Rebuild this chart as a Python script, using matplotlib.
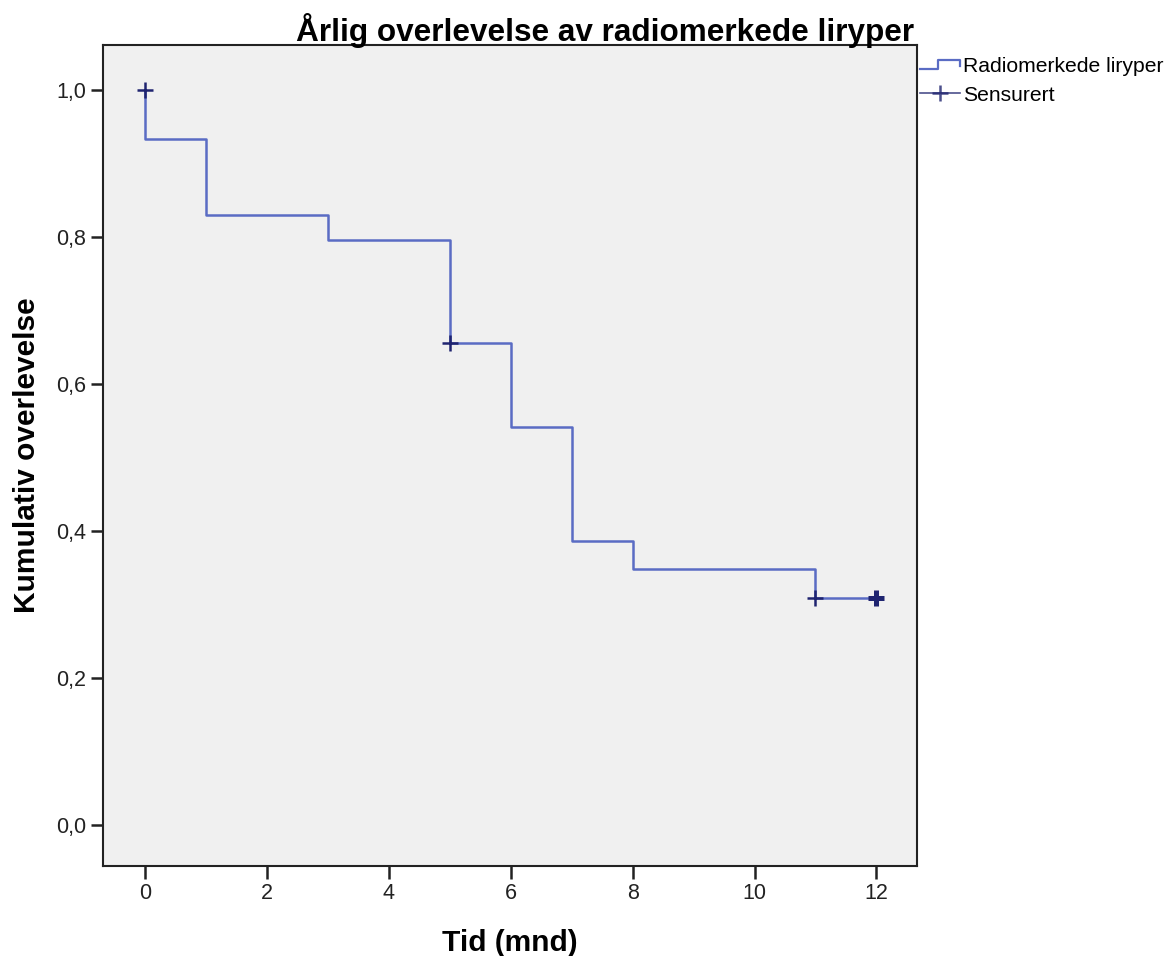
import matplotlib
matplotlib.use("Agg")
import matplotlib.pyplot as plt
from matplotlib.lines import Line2D
from matplotlib.legend_handler import HandlerBase

plt.rcParams['font.family'] = ['Liberation Sans', 'DejaVu Sans']

# Kaplan-Meier steps (time in months, cumulative survival)
times = [0, 1, 3, 5, 6, 7, 8, 11, 12]
survival = [0.933, 0.829, 0.795, 0.656, 0.541, 0.386, 0.348, 0.309, 0.309]
censor_t = [0, 5, 11, 12]
censor_s = [1.0, 0.656, 0.309, 0.309]
censor_n = [1, 1, 1, 2]

xticks = [0, 2, 4, 6, 8, 10, 12]
yticks = [0.0, 0.2, 0.4, 0.6, 0.8, 1.0]
ytick_labels = ['0,0', '0,2', '0,4', '0,6', '0,8', '1,0']

line_col = '#5a6cc4'
mark_col = '#1f2470'


class StepHandler(HandlerBase):
    # little step icon like in the SPSS legend
    def create_artists(self, legend, orig, xd, yd, w, h, fontsize, trans):
        xs = [xd, xd + w * 0.45, xd + w * 0.45, xd + w, xd + w]
        ys = [yd + h * 0.2, yd + h * 0.2, yd + h * 0.85, yd + h * 0.85, yd + h * 0.4]
        ln = Line2D(xs, ys, color=line_col, lw=1.6, transform=trans)
        return [ln]


fig = plt.figure(figsize=(11.7, 9.56), dpi=100)
ax = fig.add_axes([0.088, 0.094, 0.696, 0.859])
ax.set_facecolor('#f0f0f0')

xs = [0] + times
ys = [1.0] + survival
ax.step(xs, ys, where='post', color=line_col, lw=1.8)

for t, s, n in zip(censor_t, censor_s, censor_n):
    ax.plot(t, s, marker='+', ms=11, mew=1.8 * n, color=mark_col, ls='none')

ax.set_xlim(-0.69, 12.67)
ax.set_ylim(-0.056, 1.061)
ax.set_xticks(xticks)
ax.set_yticks(yticks)
ax.set_yticklabels(ytick_labels)
ax.tick_params(labelsize=15.5, length=9, width=1.8, colors='#222222', pad=3)
for sp in ax.spines.values():
    sp.set_linewidth(1.5)
    sp.set_color('#222222')

ax.set_xlabel('Tid (mnd)', fontsize=21.5, fontweight='bold', labelpad=18)
ax.set_ylabel('Kumulativ overlevelse', fontsize=21.5, fontweight='bold', labelpad=11)
fig.text(0.781, 0.968, 'Årlig overlevelse av radiomerkede liryper',
         ha='right', va='center', fontsize=22.7, fontweight='bold')

h1 = Line2D([], [], color=line_col)
h2 = Line2D([0], [0], color=mark_col, marker='+', ms=11, mew=1.8, lw=1.2, alpha=0.8)
leg = fig.legend([h1, h2], ['Radiomerkede liryper', 'Sensurert'],
                 handler_map={h1: StepHandler()},
                 loc='upper left', bbox_to_anchor=(0.779, 0.949), frameon=False,
                 fontsize=15.2, handlelength=1.9, handletextpad=0.15,
                 labelspacing=0.45, borderaxespad=0)

fig.savefig('out.png', dpi=100)
